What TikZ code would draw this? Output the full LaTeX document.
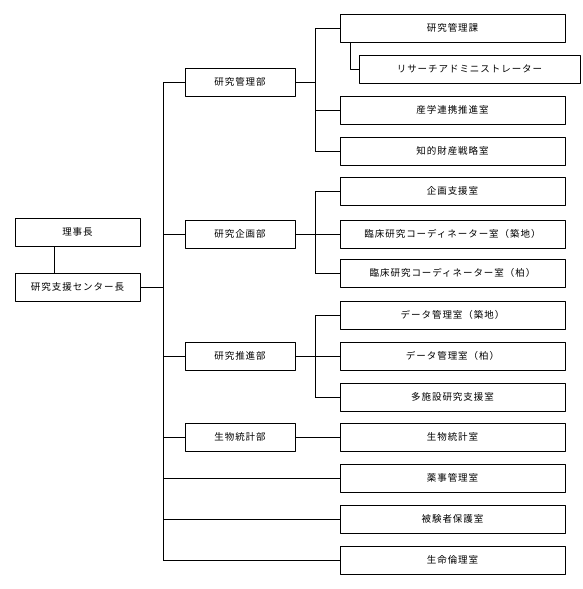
\documentclass[tikz,border=0pt]{standalone}
\usepackage{fontspec}
\setmainfont{Noto Sans CJK JP}[LetterSpace=10]
\begin{document}
\begin{tikzpicture}[x=1pt,y=-1pt,line join=round,line width=0.8pt]
	\tikzset{every node/.style={font=\fontsize{9.5}{11}\selectfont},
		box/.style={draw,rectangle,inner sep=0pt,minimum height=28pt}}
	\useasboundingbox (0,0) rectangle (582,589);
	\coordinate (trunk) at (163,0);
	\coordinate (sub) at (315,0);
	% left column
	\node[box,minimum width=125pt] (riji) at (77.5,232) {理事長};
	\node[box,minimum width=125pt] (cho) at (77.5,287) {研究支援センター長};
	% departments
	\foreach \n/\y/\t in {bu1/82/研究管理部,bu2/234/研究企画部,bu3/356/研究推進部,bu4/437/生物統計部}
	\node[box,minimum width=110pt] (\n) at (240,\y) {\t};
	% offices
	\foreach \n/\y/\t in {kanri/28/研究管理課,sangaku/110/産学連携推進室,chizai/151/知的財産戦略室,
		kikaku/191/企画支援室,rinsho1/234/臨床研究コーディネーター室（築地）,rinsho2/273/臨床研究コーディネーター室（柏）,
		data1/315/データ管理室（築地）,data2/356/データ管理室（柏）,tashisetsu/397/多施設研究支援室,
		toukei/437/生物統計室,yakuji/478/薬事管理室,hogo/519/被験者保護室,rinri/560/生命倫理室}
	\node[box,minimum width=225pt] (\n) at (452.5,\y) {\t};
	\node[box,minimum width=221pt] (ra) at (469.5,69) {リサーチアドミニストレーター};
	% connectors
	\draw ([xshift=40pt]riji.south west) -- ([xshift=40pt]cho.north west);
	\draw (cho.east) -- (cho.east -| trunk);
	\draw (bu1.west -| trunk) -- (rinri.west -| trunk);
	\foreach \n in {bu1,bu2,bu3,bu4,yakuji,hogo,rinri}
	\draw (\n.west) -- (\n.west -| trunk);
	\foreach \b/\f/\l in {bu1/kanri/chizai,bu2/kikaku/rinsho2,bu3/data1/tashisetsu}
	\draw (\b.east) -- (\b.east -| sub) (\f.west -| sub) -- (\l.west -| sub);
	\foreach \n in {kanri,sangaku,chizai,kikaku,rinsho1,rinsho2,data1,data2,tashisetsu}
	\draw (\n.west) -- (\n.west -| sub);
	\draw (bu4.east) -- (toukei.west);
	\draw ([xshift=11pt]kanri.south west) |- (ra.west);
\end{tikzpicture}
\end{document}
